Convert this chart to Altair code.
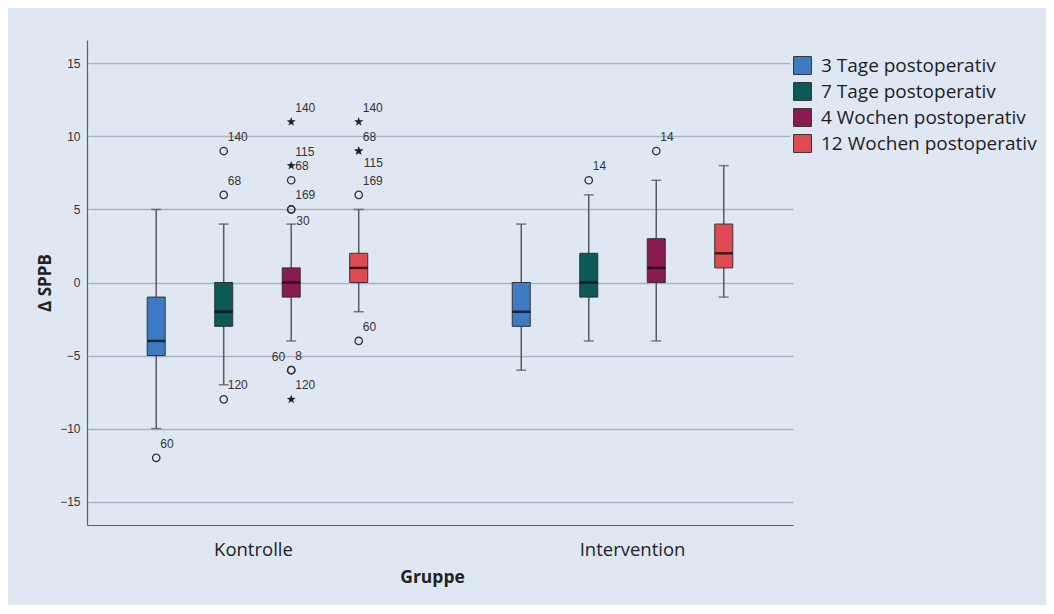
import altair as alt
import pandas as pd

# ---- data ----
series_order = ["3 Tage postoperativ", "7 Tage postoperativ",
                "4 Wochen postoperativ", "12 Wochen postoperativ"]
group_order = ["Kontrolle", "Intervention"]
colors = ["#3d7cc4", "#0b5a59", "#8b1a52", "#e04a52"]

box_group = ["Kontrolle"] * 4 + ["Intervention"] * 4
box_series = series_order * 2
q1 = [-5, -3, -1, 0, -3, -1, 0, 1]
median = [-4, -2, 0, 1, -2, 0, 1, 2]
q3 = [-1, 0, 1, 2, 0, 2, 3, 4]
whisk_lo = [-10, -7, -4, -2, -6, -4, -4, -1]
whisk_hi = [5, 4, 4, 5, 4, 6, 7, 8]

out_group = ["Kontrolle"] * 17 + ["Intervention"] * 2
out_series = ([series_order[0]]
              + [series_order[1]] * 3
              + [series_order[2]] * 8
              + [series_order[3]] * 5
              + [series_order[1], series_order[2]])
out_value = [-12,
             9, 6, -8,
             11, 8, 7, 5, 5, -6, -6, -8,
             11, 9, 9, 6, -4,
             7, 9]
out_kind = ["circle",
            "circle", "circle", "circle",
            "star", "star", "circle", "circle", "circle", "circle", "circle", "star",
            "star", "star", "star", "circle", "circle",
            "circle", "circle"]
out_label = ["60",
             "140", "68", "120",
             "140", "115", "68", "169", "30", "60", "8", "120",
             "140", "68", "115", "169", "60",
             "14", "14"]
out_place = ["ur",
             "ur", "ur", "ur",
             "ur", "ur", "ur", "ur", "lr", "ul", "ur", "ur",
             "ur", "ur", "lr", "ur", "ur",
             "ur", "ur"]

boxes = pd.DataFrame({"group": box_group, "series": box_series, "q1": q1,
                      "median": median, "q3": q3, "lo": whisk_lo, "hi": whisk_hi})
outs = pd.DataFrame({"group": out_group, "series": out_series, "value": out_value,
                     "kind": out_kind, "label": out_label, "place": out_place})

BG = "#dfe8f2"
STAR = ("M0,-1L0.235,-0.324L0.951,-0.309L0.38,0.124L0.588,0.809L0,0.4"
        "L-0.588,0.809L-0.38,0.124L-0.951,-0.309L-0.235,-0.324Z")

xenc = alt.X("group:N", sort=group_order,
             scale=alt.Scale(domain=group_order, paddingInner=0.5, paddingOuter=0.217),
             axis=alt.Axis(title="Gruppe", labelAngle=0, ticks=False, grid=False,
                           domain=True, domainColor="#5a5f66", domainWidth=1.2,
                           labelFont="Open Sans", labelFontSize=18.5, labelColor="#222",
                           labelPadding=15,
                           labelOffset={"condition": {"test": "datum.value == 'Intervention'", "value": 10}, "value": -4},
                           titleFont="Open Sans", titleFontSize=17.5, titleFontWeight="bold",
                           titleColor="#222", titlePadding=10, titleX=345))
xoff = alt.XOffset("series:N", sort=series_order,
                   scale=alt.Scale(domain=series_order, range=[-43.75, 226.25],
                                   paddingInner=0, paddingOuter=0))
yscale = alt.Scale(domain=[-16.6, 16.6], nice=False, zero=False)
yenc_axis = alt.Axis(title="Δ SPPB", values=[-15, -10, -5, 0, 5, 10, 15], ticks=False,
                     grid=True, gridColor="#aab4c0", gridWidth=1.3,
                     domain=True, domainColor="#5a5f66", domainWidth=1.2,
                     labelFont="Liberation Sans", labelFontSize=12, labelColor="#333",
                     labelPadding=7, titleFont="Open Sans", titleFontSize=17,
                     titleFontWeight="bold", titleColor="#222", titlePadding=5)

base = alt.Chart(boxes)

whisk = base.mark_rule(color="#555a60", strokeWidth=1.5).encode(
    x=xenc, xOffset=xoff,
    y=alt.Y("lo:Q", scale=yscale, axis=yenc_axis), y2="hi:Q")

cap_lo = base.mark_tick(color="#4a4f55", thickness=1.5, size=10, orient="horizontal").encode(
    x=xenc, xOffset=xoff, y=alt.Y("lo:Q", scale=yscale))
cap_hi = base.mark_tick(color="#4a4f55", thickness=1.5, size=10, orient="horizontal").encode(
    x=xenc, xOffset=xoff, y=alt.Y("hi:Q", scale=yscale))

box = base.mark_bar(size=18, stroke="#333", strokeWidth=1).encode(
    x=xenc, xOffset=xoff,
    y=alt.Y("q1:Q", scale=yscale), y2="q3:Q",
    color=alt.Color("series:N", sort=series_order,
                    scale=alt.Scale(domain=series_order, range=colors),
                    legend=alt.Legend(title=None, orient="none", legendX=703, legendY=13,
                                      symbolType="square", symbolSize=320,
                                      symbolStrokeColor="#333", symbolStrokeWidth=1,
                                      symbolOpacity=1,
                                      labelFont="Open Sans", labelFontSize=19,
                                      labelColor="#1e1e1e", labelLimit=400,
                                      rowPadding=3, labelOffset=9,
                                      fillColor=BG, padding=3)))

med = base.mark_tick(color="#000", thickness=2.5, size=18, orient="horizontal").encode(
    x=xenc, xOffset=xoff, y=alt.Y("median:Q", scale=yscale))

obase = alt.Chart(outs)
circ = obase.transform_filter("datum.kind == 'circle'").mark_point(
    shape="circle", filled=False, size=55, stroke="#333", strokeWidth=1.3, opacity=1).encode(
    x=xenc, xOffset=xoff, y=alt.Y("value:Q", scale=yscale))
star = obase.transform_filter("datum.kind == 'star'").mark_point(
    shape=STAR, filled=True, size=90, color="#222", opacity=1).encode(
    x=xenc, xOffset=xoff, y=alt.Y("value:Q", scale=yscale))


def labels(place, dx, dy, align):
    return obase.transform_filter(f"datum.place == '{place}'").mark_text(
        align=align, baseline="middle", dx=dx, dy=dy, font="Liberation Sans",
        fontSize=12, color="#333").encode(
        x=xenc, xOffset=xoff, y=alt.Y("value:Q", scale=yscale), text="label:N")


lab_ur = labels("ur", 4, -14, "left")
lab_lr = labels("lr", 5, 12, "left")
lab_ul = labels("ul", -6, -13, "right")

chart = alt.layer(whisk, cap_lo, cap_hi, box, med, circ, star, lab_ur, lab_lr, lab_ul).properties(
    width=706, height=485,
    autosize=alt.AutoSizeParams(type="none"),
    padding={"left": 79, "top": 32, "right": 253, "bottom": 80},
    background=BG,
).configure_view(stroke=None)

chart.save("out.html", embed_options={"renderer": "svg", "actions": False})
